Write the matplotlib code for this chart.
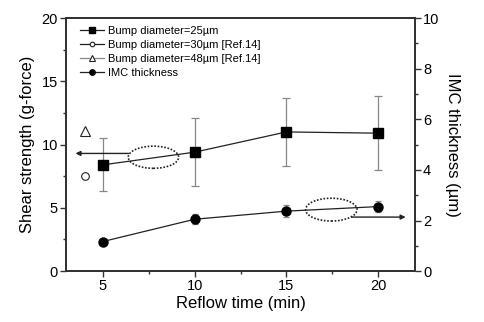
"""Shear strength and IMC thickness vs reflow time."""

import matplotlib.pyplot as plt
from matplotlib.patches import Ellipse
from matplotlib.ticker import MultipleLocator

plt.rcParams['font.family'] = ['Liberation Sans', 'DejaVu Sans']

# data
reflow_time = [5, 10, 15, 20]
shear_25 = [8.4, 9.4, 11.0, 10.9]
shear_25_err = [2.1, 2.7, 2.7, 2.9]
ref_time = [4]
shear_30 = [7.5]
shear_48 = [11.1]
imc_thickness = [1.17, 2.05, 2.37, 2.55]
imc_err = [0.08, 0.2, 0.25, 0.22]

DARK = "#222222"
GRAY = "#888888"

fig, ax = plt.subplots(figsize=(4.84, 3.22), dpi=100)
fig.subplots_adjust(left=0.137, right=0.857, top=0.944, bottom=0.158)
ax2 = ax.twinx()

ax.errorbar(reflow_time, shear_25, yerr=shear_25_err, fmt="none",
            ecolor=GRAY, elinewidth=0.9, capsize=3, capthick=0.9, zorder=2)
ax.plot(reflow_time, shear_25, color=DARK, lw=0.9, marker="s", ms=7.5,
        mfc="black", mec="black", label="Bump diameter=25\u00b5m", zorder=3)
ax.plot(ref_time, shear_30, ls="-", color=DARK, lw=0.9, marker="o", ms=5.5,
        mfc="white", mec=DARK, mew=0.8, label="Bump diameter=30\u00b5m [Ref.14]")
ax.plot(ref_time, shear_48, ls="-", color=GRAY, lw=0.9, marker="^", ms=6.5,
        mfc="white", mec=DARK, mew=0.8, label="Bump diameter=48\u00b5m [Ref.14]")

ax2.errorbar(reflow_time, imc_thickness, yerr=imc_err, fmt="none",
             ecolor=GRAY, elinewidth=0.9, capsize=2.5, capthick=0.9, zorder=2)
ax2.plot(reflow_time, imc_thickness, color=DARK, lw=0.9, marker="o", ms=6.5,
         mfc="black", mec="black", zorder=3)
# legend proxy for IMC on the left axis
ax.plot([], [], color=DARK, lw=0.9, marker="o", ms=6.5, mfc="black",
        mec="black", label="IMC thickness")

# dotted ellipses with arrows pointing to the axes
ax.add_patch(Ellipse((7.75, 9.0), 2.75, 1.75, fill=False, ls=(0, (1, 1)),
                     lw=1.2, color=DARK))
ax.annotate("", xy=(3.5, 9.3), xytext=(6.4, 9.3),
            arrowprops=dict(arrowstyle="-|>", color=DARK, lw=1.0,
                            mutation_scale=7, shrinkA=0, shrinkB=0))
ax.add_patch(Ellipse((17.45, 4.86), 2.8, 1.8, fill=False, ls=(0, (1, 1)),
                     lw=1.2, color=DARK))
ax.annotate("", xy=(21.5, 4.27), xytext=(18.55, 4.27),
            arrowprops=dict(arrowstyle="-|>", color=DARK, lw=1.0,
                            mutation_scale=7, shrinkA=0, shrinkB=0))

ax.set_xlim(3, 22)
ax.set_ylim(0, 20)
ax2.set_ylim(0, 10)
ax.xaxis.set_major_locator(MultipleLocator(5))
ax.xaxis.set_minor_locator(MultipleLocator(2.5))
ax.yaxis.set_major_locator(MultipleLocator(5))
ax.yaxis.set_minor_locator(MultipleLocator(2.5))
ax2.yaxis.set_major_locator(MultipleLocator(2))
ax2.yaxis.set_minor_locator(MultipleLocator(1))

for a in (ax, ax2):
    for s in a.spines.values():
        s.set_linewidth(1.3)
        s.set_color("#333333")
    a.tick_params(which="major", length=4, width=1.0, labelsize=10.5,
                  color="#333333", pad=2)
    a.tick_params(which="minor", length=2.5, width=1.0, color="#333333")

ax.set_xlabel("Reflow time (min)", fontsize=12, labelpad=2)
ax.set_ylabel("Shear strength (g-force)", fontsize=12, labelpad=5)
ax2.set_ylabel("IMC thickness (\u00b5m)", fontsize=12, rotation=270,
               labelpad=15)

leg = ax.legend(loc="upper left", bbox_to_anchor=(0.016, 1.0), frameon=False,
                fontsize=8, handlelength=2.1, handletextpad=0.4,
                labelspacing=0.35, borderaxespad=0.35, markerscale=0.6)

fig.savefig("out.png", dpi=100)
